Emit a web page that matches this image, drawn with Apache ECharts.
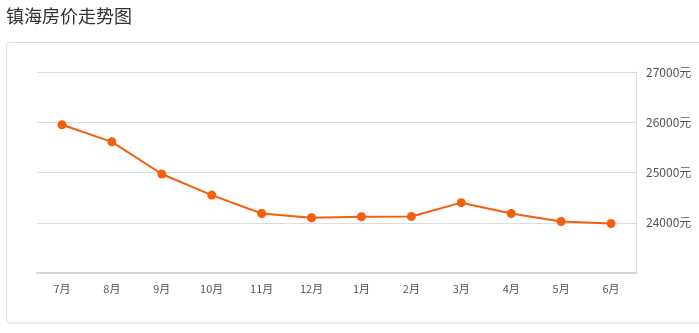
<!DOCTYPE html>
<html><head><meta charset="utf-8">
<script src="https://cdn.jsdelivr.net/npm/echarts@6/dist/echarts.min.js"></script>
<style>html,body{margin:0;padding:0;background:#fff}#c{width:699px;height:333px}</style>
</head><body><div id="c"></div>
<script>
var categories = ['7月','8月','9月','10月','11月','12月','1月','2月','3月','4月','5月','6月'];
var prices = [25950, 25610, 24970, 24550, 24185, 24100, 24120, 24125, 24400, 24185, 24025, 23985];
var yTicks = {min: 23000, max: 27000, interval: 1000, unit: '元'};

var chart = echarts.init(document.getElementById('c'));
var font = '"Noto Sans CJK SC", "Microsoft YaHei", sans-serif';
chart.setOption({
  animation: false,
  title: {text: '镇海房价走势图', left: 1, top: 2, textStyle: {fontSize: 18, fontWeight: 'normal', color: '#333', fontFamily: font}},
  graphic: [{type: 'rect', shape: {x: 6.5, y: 42.5, width: 700, height: 280.5, r: 3}, style: {fill: 'none', stroke: '#dcdcdc', lineWidth: 1}, z: -1}],
  grid: {left: 37, right: 63, top: 72, bottom: 60},
  xAxis: {
    type: 'category', data: categories, boundaryGap: true,
    axisLine: {lineStyle: {color: '#d4d4d4', width: 2}},
    axisTick: {alignWithLabel: true, length: 4, lineStyle: {color: '#d4d4d4'}},
    axisLabel: {color: '#555', fontSize: 11, margin: 10, fontFamily: font}
  },
  yAxis: {
    type: 'value', position: 'right', min: yTicks.min, max: yTicks.max, interval: yTicks.interval,
    axisLine: {show: true, lineStyle: {color: '#dcdcdc'}},
    axisTick: {show: false},
    splitLine: {lineStyle: {color: '#dcdcdc'}},
    axisLabel: {color: '#555', fontSize: 12, margin: 10, fontFamily: font, showMinLabel: false,
      formatter: function(v){ return v === yTicks.min ? '' : v + yTicks.unit; }}
  },
  series: [{
    type: 'line', data: prices, symbol: 'circle', symbolSize: 9,
    lineStyle: {color: '#f35f0c', width: 2}, itemStyle: {color: '#f35f0c'}
  }]
});
</script></body></html>
